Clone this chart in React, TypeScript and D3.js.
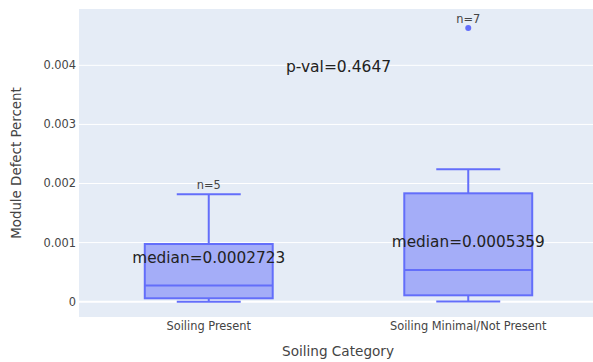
import React from 'react';
import * as d3 from 'd3';

const categories = ['Soiling Present', 'Soiling Minimal/Not Present'];
const lowerFence = [0.000001, 0.000002];
const q1 = [0.0000575, 0.000108];
const medians = [0.0002723, 0.0005359];
const q3 = [0.000976, 0.001834];
const upperFence = [0.001817, 0.00224];
const outliers = [[], [0.004631]];
const counts = [5, 7];
const yTicks = [0, 0.001, 0.002, 0.003, 0.004];
const pValue = '0.4647';

const W = 593;
const H = 362;
const margin = { top: 9, right: -5, bottom: 45, left: 79 };
const font = '"DejaVu Sans", Verdana, sans-serif';
const boxColor = '#636efa';
const axisText = '#444';

const App = () => {
  const x = d3
    .scaleBand()
    .domain(categories)
    .range([margin.left, W - margin.right])
    .padding(0);
  const y = d3
    .scaleLinear()
    .domain([-0.000259, 0.004953])
    .range([H - margin.bottom, margin.top]);

  const bw = x.bandwidth() * 0.493;
  const plotL = margin.left;
  const plotR = W - margin.right;
  const plotT = margin.top;
  const plotB = H - margin.bottom;

  return (
    <svg
      width={W}
      height={H}
      style={{ position: 'absolute', left: 0, top: 0, background: '#fff' }}
      fontFamily={font}
    >
      <rect x={plotL} y={plotT} width={plotR - plotL} height={plotB - plotT} fill="#E5ECF6" />

      {yTicks.map(t => (
        <g key={t}>
          <line
            x1={plotL}
            x2={plotR}
            y1={y(t)}
            y2={y(t)}
            stroke="#fff"
            strokeWidth={t === 0 ? 2 : 1}
          />
          <text
            x={plotL - 3}
            y={y(t)}
            dy="0.35em"
            textAnchor="end"
            fontSize={11.4}
            fill={axisText}
          >
            {t === 0 ? '0' : d3.format('.3f')(t)}
          </text>
        </g>
      ))}

      {categories.map((c, i) => {
        const cx = (x(c) as number) + x.bandwidth() / 2;
        return (
          <g key={c}>
            <line x1={cx} x2={cx} y1={y(q3[i])} y2={y(upperFence[i])} stroke={boxColor} strokeWidth={2} />
            <line x1={cx} x2={cx} y1={y(q1[i])} y2={y(lowerFence[i])} stroke={boxColor} strokeWidth={2} />
            <line x1={cx - bw / 4} x2={cx + bw / 4} y1={y(upperFence[i])} y2={y(upperFence[i])} stroke={boxColor} strokeWidth={2} />
            <line x1={cx - bw / 4} x2={cx + bw / 4} y1={y(lowerFence[i])} y2={y(lowerFence[i])} stroke={boxColor} strokeWidth={2} />
            <rect
              x={cx - bw / 2}
              y={y(q3[i])}
              width={bw}
              height={y(q1[i]) - y(q3[i])}
              fill="rgba(99,110,250,0.5)"
              stroke={boxColor}
              strokeWidth={2}
            />
            <line x1={cx - bw / 2} x2={cx + bw / 2} y1={y(medians[i])} y2={y(medians[i])} stroke={boxColor} strokeWidth={2} />
            {outliers[i].map((o, j) => (
              <circle key={j} cx={cx} cy={y(o)} r={3} fill={boxColor} />
            ))}
            <text
              x={cx}
              y={y(d3.max([upperFence[i], ...outliers[i]]) as number) - 5}
              textAnchor="middle"
              fontSize={11.4}
              fill={axisText}
            >
              {`n=${counts[i]}`}
            </text>
            <text
              x={cx}
              y={y(medians[i]) - 28}
              dy="0.35em"
              textAnchor="middle"
              fontSize={15.3}
              fill="#222"
            >
              {`median=${medians[i]}`}
            </text>
            <text x={cx} y={plotB + 13} textAnchor="middle" fontSize={11.4} fill={axisText}>
              {c}
            </text>
          </g>
        );
      })}

      <text
        x={(plotL + plotR) / 2}
        y={y(0.004) + 1.5}
        dy="0.35em"
        textAnchor="middle"
        fontSize={15.5}
        fill="#222"
      >
        {`p-val=${pValue}`}
      </text>

      <text x={338} y={356} textAnchor="middle" fontSize={13.6} fill={axisText}>
        Soiling Category
      </text>
      <text
        transform={`translate(21, ${(plotT + plotB) / 2}) rotate(-90)`}
        textAnchor="middle"
        fontSize={13.4}
        fill={axisText}
      >
        Module Defect Percent
      </text>
    </svg>
  );
};

export default App;
